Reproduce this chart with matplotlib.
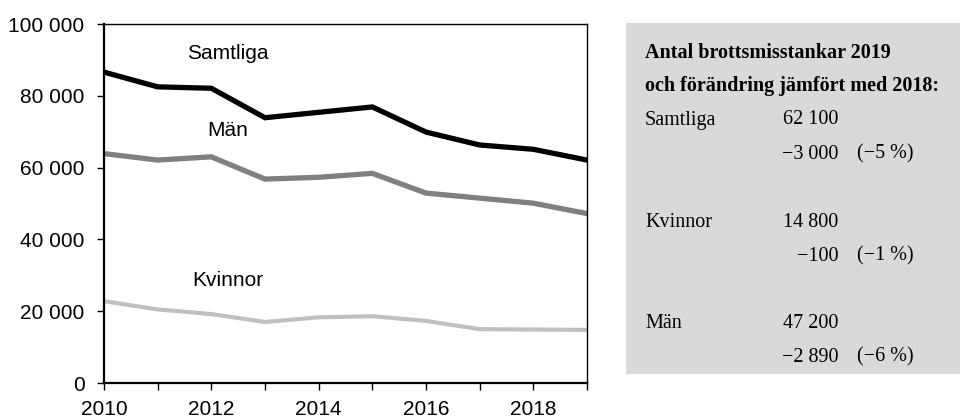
import matplotlib
matplotlib.use('Agg')
import matplotlib.pyplot as plt
from matplotlib.patches import Rectangle
from matplotlib.ticker import FuncFormatter

# Data
years = [2010, 2011, 2012, 2013, 2014, 2015, 2016, 2017, 2018, 2019]
samtliga = [86600, 82500, 82100, 73900, 75400, 76900, 69900, 66300, 65100, 62100]
man = [63900, 62100, 63000, 56800, 57300, 58400, 52900, 51500, 50090, 47200]
kvinnor = [22800, 20500, 19200, 17000, 18300, 18600, 17300, 15000, 14900, 14800]

series_labels = ['Samtliga', 'Män', 'Kvinnor']

box_title = ['Antal brottsmisstankar 2019', 'och förändring jämfört med 2018:']
box_names = ['Samtliga', 'Kvinnor', 'Män']
box_values = ['62 100', '14 800', '47 200']
box_changes = ['\u22123 000', '\u2212100', '\u22122 890']
box_pct = ['(\u22125 %)', '(\u22121 %)', '(\u22126 %)']

plt.rcParams['font.family'] = ['Liberation Sans', 'DejaVu Sans']

fig = plt.figure(figsize=(9.6, 4.19), dpi=100)
ax = fig.add_axes([0.1083, 0.0859, 0.5032, 0.8568])

ax.plot(years, samtliga, color='black', lw=3.8, solid_joinstyle='miter')
ax.plot(years, man, color='#808080', lw=3.8, solid_joinstyle='miter')
ax.plot(years, kvinnor, color='#c0c0c0', lw=3.0, solid_joinstyle='miter')

ax.set_xlim(2010, 2019)
ax.set_ylim(0, 100000)
ax.set_yticks(range(0, 100001, 20000))
ax.yaxis.set_major_formatter(FuncFormatter(lambda v, p: f'{int(v):,}'.replace(',', ' ')))
ax.set_xticks(years)
ax.set_xticklabels([str(y) if y % 2 == 0 else '' for y in years])
ax.tick_params(axis='both', direction='out', length=5, width=1, labelsize=15)
ax.tick_params(axis='y', pad=9)
ax.tick_params(axis='x', pad=7)

for side in ['left', 'bottom']:
    ax.spines[side].set_linewidth(1.6)
for side in ['top', 'right']:
    ax.spines[side].set_linewidth(1.0)

ax.text(2012.3, 91700, series_labels[0], fontsize=15, ha='center', va='center')
ax.text(2012.3, 70300, series_labels[1], fontsize=15, ha='center', va='center')
ax.text(2012.3, 28500, series_labels[2], fontsize=15, ha='center', va='center')

# Info box on the right
fig.patches.append(Rectangle((0.652, 0.1074), 0.348, 0.8377, transform=fig.transFigure,
                             facecolor='#d9d9d9', edgecolor='none', zorder=0))

serif = ['Liberation Serif', 'DejaVu Serif']
def ypx(y):
    return 1 - y / 419

fs = 14.5
fig.text(645 / 960, ypx(53), box_title[0], family=serif, fontsize=fs, weight='bold', va='center')
fig.text(645 / 960, ypx(86), box_title[1], family=serif, fontsize=fs, weight='bold', va='center')

rows = [120, 222, 323]
for i, r in enumerate(rows):
    fig.text(645 / 960, ypx(r), box_names[i], family=serif, fontsize=fs, va='center')
    fig.text(838 / 960, ypx(r), box_values[i], family=serif, fontsize=fs, va='center', ha='right')
    fig.text(838 / 960, ypx(r + 34), box_changes[i], family=serif, fontsize=fs, va='center', ha='right')
    fig.text(857 / 960, ypx(r + 34), box_pct[i], family=serif, fontsize=fs, va='center')

fig.savefig('out.png', dpi=100)
